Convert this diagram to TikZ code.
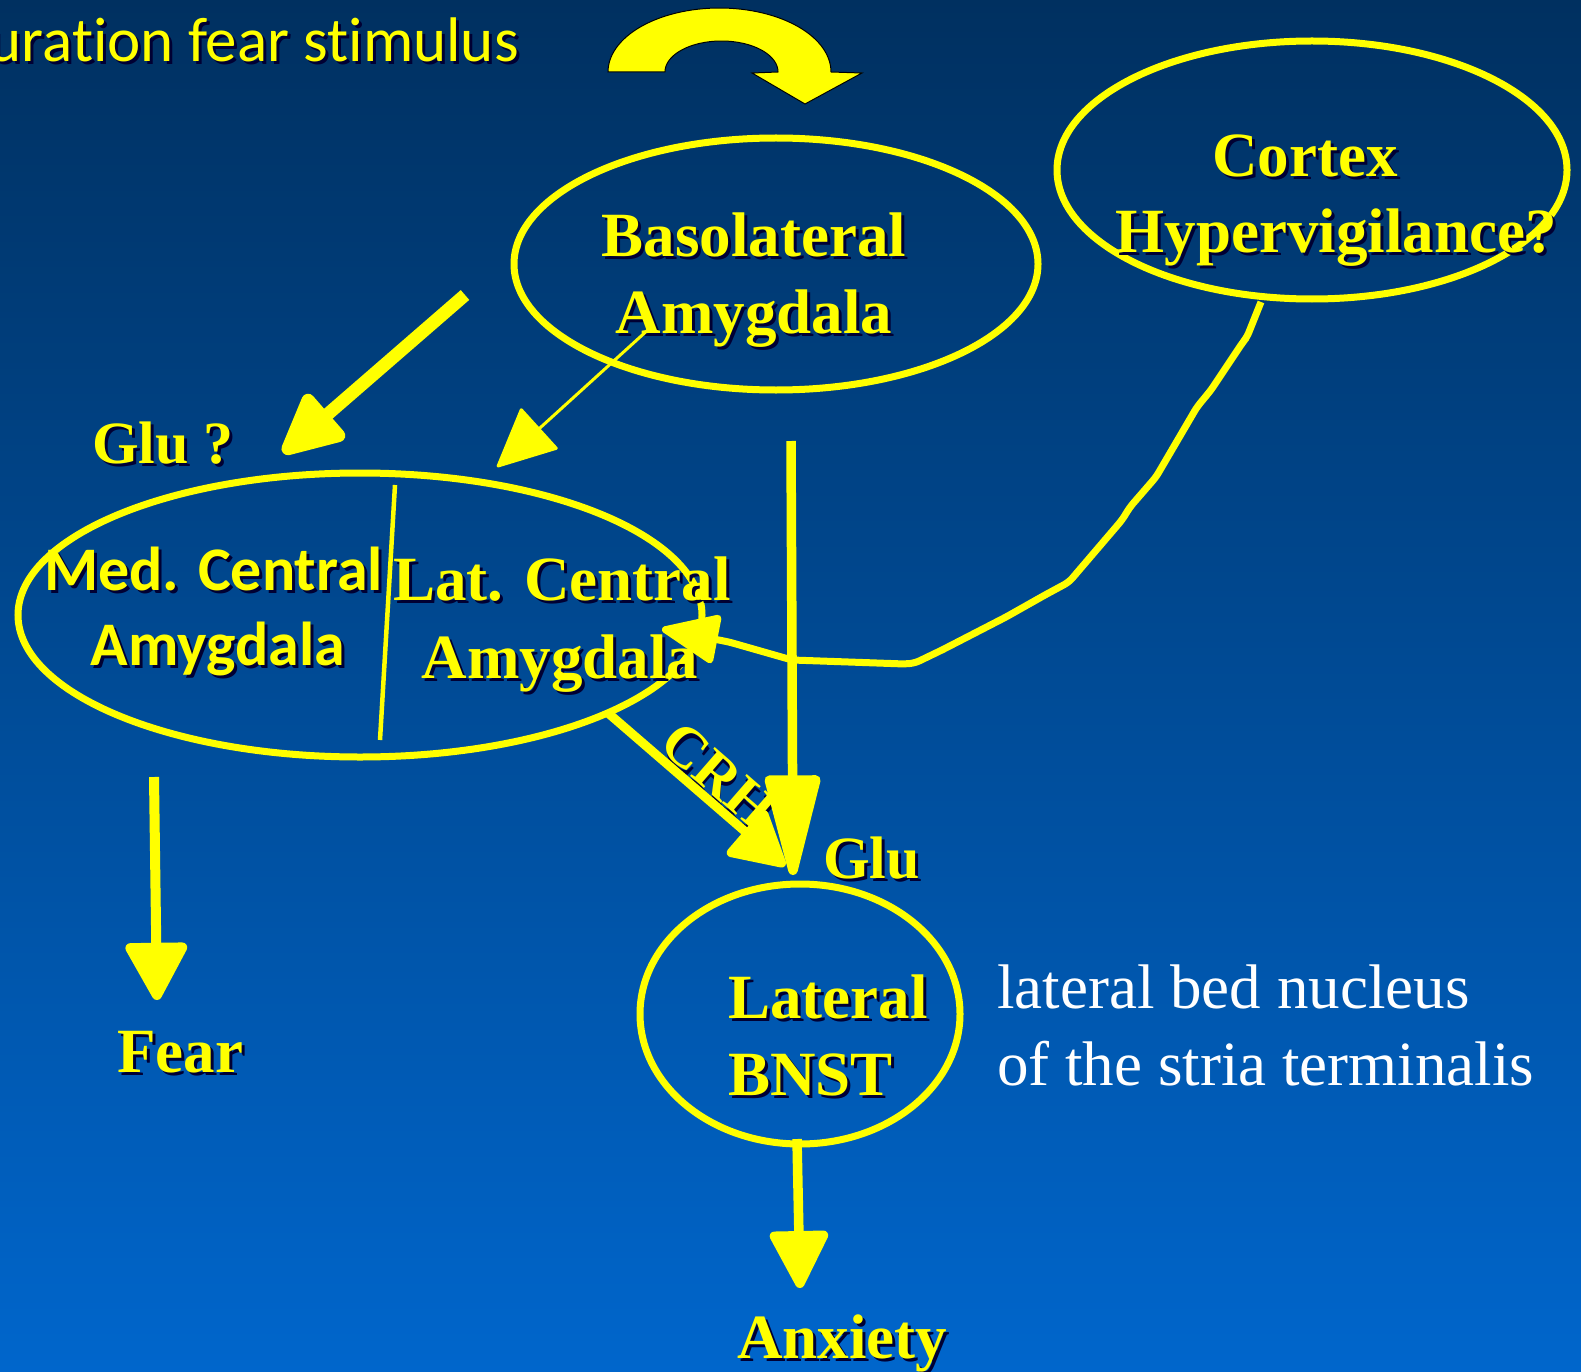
\documentclass[tikz,border=0pt]{standalone}
\usepackage{fontspec}
\setmainfont{Liberation Serif}
\newfontfamily\calib[Ligatures=NoCommon]{Carlito}
\usetikzlibrary{arrows.meta,shapes.geometric}
\definecolor{ylw}{RGB}{255,255,0}
\definecolor{bgtop}{RGB}{0,48,96}
\definecolor{bgbot}{RGB}{0,102,204}
\newcommand\shd[1]{\leavevmode\rlap{\kern3pt\raisebox{-3pt}{\textcolor{black!80!blue}{#1}}}#1}
\tikzset{
  ybf/.style={text=ylw, font=\fontsize{63}{70}\selectfont\bfseries, inner sep=0pt},
  ycal/.style={text=ylw, font=\calib\fontsize{62}{70}\selectfont\bfseries, inner sep=0pt},
  wtxt/.style={text=white, font=\fontsize{63}{70}\selectfont, inner sep=0pt},
  region/.style={ellipse, draw=ylw, line width=7pt, inner sep=0pt},
  conn/.style={draw=ylw, line width=9pt},
}
\begin{document}
\begin{tikzpicture}[x=1pt,y=-1pt]
\useasboundingbox (0,0) rectangle (1581,1372);
\shade[top color=bgtop, bottom color=bgbot] (0,0) rectangle (1581,1372);

% block U-turn arrow
\filldraw[fill=ylw, draw=black, line width=1pt, line join=miter]
  plot[domain=180:0, samples=60] ({719.5+111.5*cos(\x)},{72-64*sin(\x)})
  -- (862,73) -- (805,104) -- (752,73) -- (778,72)
  -- plot[domain=0:180, samples=60] ({721.5+56.5*cos(\x)},{72-31*sin(\x)}) -- cycle;

% regions
\node[region, minimum width=524pt, minimum height=252pt] (bla) at (776,264) {};
\node[region, minimum width=510pt, minimum height=258pt] (ctx) at (1312,170) {};
\node[region, minimum width=684pt, minimum height=284pt] (cea) at (360,615) {};
\node[region, minimum width=320pt, minimum height=260pt] (bnst) at (800,1014) {};

% divider inside central amygdala
\coordinate (divt) at (395,485);
\coordinate (divb) at (380,740);
\draw[draw=ylw, line width=4.5pt] (divt) -- (divb);

% texts
\node[inner sep=0pt, text=ylw, font=\calib\fontsize{63}{70}\selectfont, anchor=base east] (stim) at (519,62) {\shd{uration fear stimulus}};
\node[ybf, anchor=base] (bla1) at (754,257) {\shd{Basolateral}};
\node[ybf, anchor=base] (bla2) at (754,333) {\shd{Amygdala}};
\node[ybf, anchor=base] (ctx1) at (1305,177) {\shd{Cortex}};
\node[ybf, anchor=base] (ctx2) at (1336,252) {\shd{Hypervigilance?}};
\node[ybf, anchor=base west, font=\fontsize{60}{66}\selectfont\bfseries] (glu1) at (92,463) {\shd{Glu ?}};
\node[ycal, anchor=base west] (med1) at (44,590) {\shd{Med. Central}};
\node[ycal, anchor=base] (med2) at (218,665) {\shd{Amygdala}};
\node[ybf, anchor=base west] (lat1) at (393,600) {\shd{Lat. Central}};
\node[ybf, anchor=base] (lat2) at (560,678) {\shd{Amygdala}};
\node[ybf, font=\fontsize{58}{64}\selectfont\bfseries, rotate=-41] (crh) at (718,777) {\shd{CRH}};
\node[ybf, anchor=base west, font=\fontsize{60}{66}\selectfont\bfseries] (glu2) at (823,878) {\shd{Glu}};
\node[ybf, anchor=base west] (fear) at (117,1072) {\shd{Fear}};
\node[ybf, anchor=base west] (bn1) at (728,1018) {\shd{Lateral}};
\node[ybf, anchor=base west] (bn2) at (728,1095) {\shd{BNST}};
\node[wtxt, anchor=base west] (d1) at (997,1008) {lateral bed nucleus};
\node[wtxt, anchor=base west] (d2) at (997,1085) {of the stria terminalis};
\node[ybf, anchor=base west] (anx) at (737,1358) {\shd{Anxiety}};

% connector end points
\coordinate (g1s) at (465,295);  \coordinate (g1e) at (283,453);
\coordinate (t1s) at (650,328);  \coordinate (t1e) at (497,467);
\coordinate (vs) at (791,441);   \coordinate (ve) at (793,875);
\coordinate (cs) at (608,713);   \coordinate (ce) at (785,866);
\coordinate (fs) at (154,777);   \coordinate (fe) at (157,1000);
\coordinate (as) at (797,1139);  \coordinate (ae) at (800,1288);
\coordinate (ws) at (1261,302);  \coordinate (we) at (662,629);

% connectors
\draw[conn, line width=13pt, -{Triangle[length=69pt,width=64pt,round]}] (g1s) -- (g1e);
\draw[conn, line width=3pt, -{Triangle[length=60pt,width=56pt,round]}] (t1s) -- (t1e);
\draw[conn, line width=9.5pt, -{Triangle[length=115pt,width=56pt,round]}] (vs) -- (ve);
\draw[conn, line width=9pt, -{Triangle[length=59pt,width=63pt,round]}] (cs) -- (ce);
\draw[conn, line width=10pt, -{Triangle[length=63pt,width=66pt,round]}] (fs) -- (fe);
\draw[conn, line width=9.5pt, -{Triangle[length=63pt,width=62pt,round]}] (as) -- (ae);
\draw[conn, line width=7pt, line join=round, rounded corners=5pt, -{Triangle[length=62pt,width=51pt,round]}]
  (ws) -- (1247,337) -- (1243,342) -- (1211,390) -- (1197,407) -- (1156,477)
  -- (1130,507) -- (1122,520) -- (1069,582) -- (1045,595) -- (1006,617)
  -- (942,650) -- (915,663) -- (905,664) -- (792,660) -- (729,642) -- (we);
\end{tikzpicture}
\end{document}
